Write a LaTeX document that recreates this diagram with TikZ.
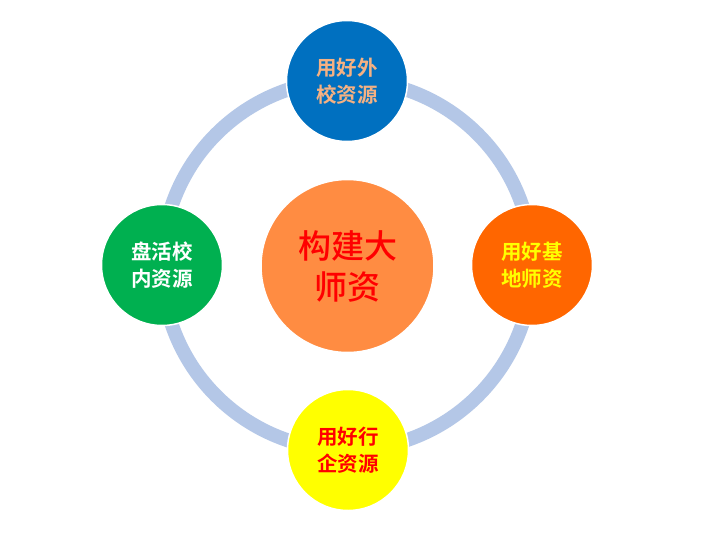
\documentclass[tikz,border=0pt]{standalone}
\usepackage{fontspec}
\newfontfamily\cjk{Noto Sans CJK SC Bold}
\newfontfamily\cjkmed{Noto Sans CJK SC Medium}
\definecolor{ringc}{HTML}{B4C7E7}
\definecolor{topc}{HTML}{0070C0}
\definecolor{toptxt}{HTML}{F4B183}
\definecolor{rightc}{HTML}{FF6600}
\definecolor{botc}{HTML}{FFFF00}
\definecolor{leftc}{HTML}{00B050}
\definecolor{centc}{HTML}{FF8C42}
\begin{document}
\begin{tikzpicture}[x=1pt,y=-1pt,
  outer/.style={circle,draw=white,line width=1.5pt,minimum size=121pt,inner sep=0pt,align=center,font=\cjk\fontsize{20.5}{27}\selectfont},
  inner/.style={circle,draw=white,line width=1.5pt,minimum size=173pt,inner sep=0pt,align=center,font=\cjkmed\fontsize{33}{41}\selectfont}]
\useasboundingbox (0,0) rectangle (702,544);
\fill[white] (0,0) rectangle (702,544);
\coordinate (c) at (347,265);
\draw[ringc,line width=14pt] (c) circle[radius=185];
\node[outer,fill=topc,text=toptxt] (top) at (347,81) {用好外\\校资源};
\node[outer,fill=rightc,text=botc] (right) at (532,265) {用好基\\地师资};
\node[outer,fill=botc,text=red] (bot) at (348,450) {用好行\\企资源};
\node[outer,fill=leftc,text=white] (left) at (162,265) {盘活校\\内资源};
\node[inner,fill=centc,text=red] (center) at (347.5,266) {构建大\\师资};
\end{tikzpicture}
\end{document}
